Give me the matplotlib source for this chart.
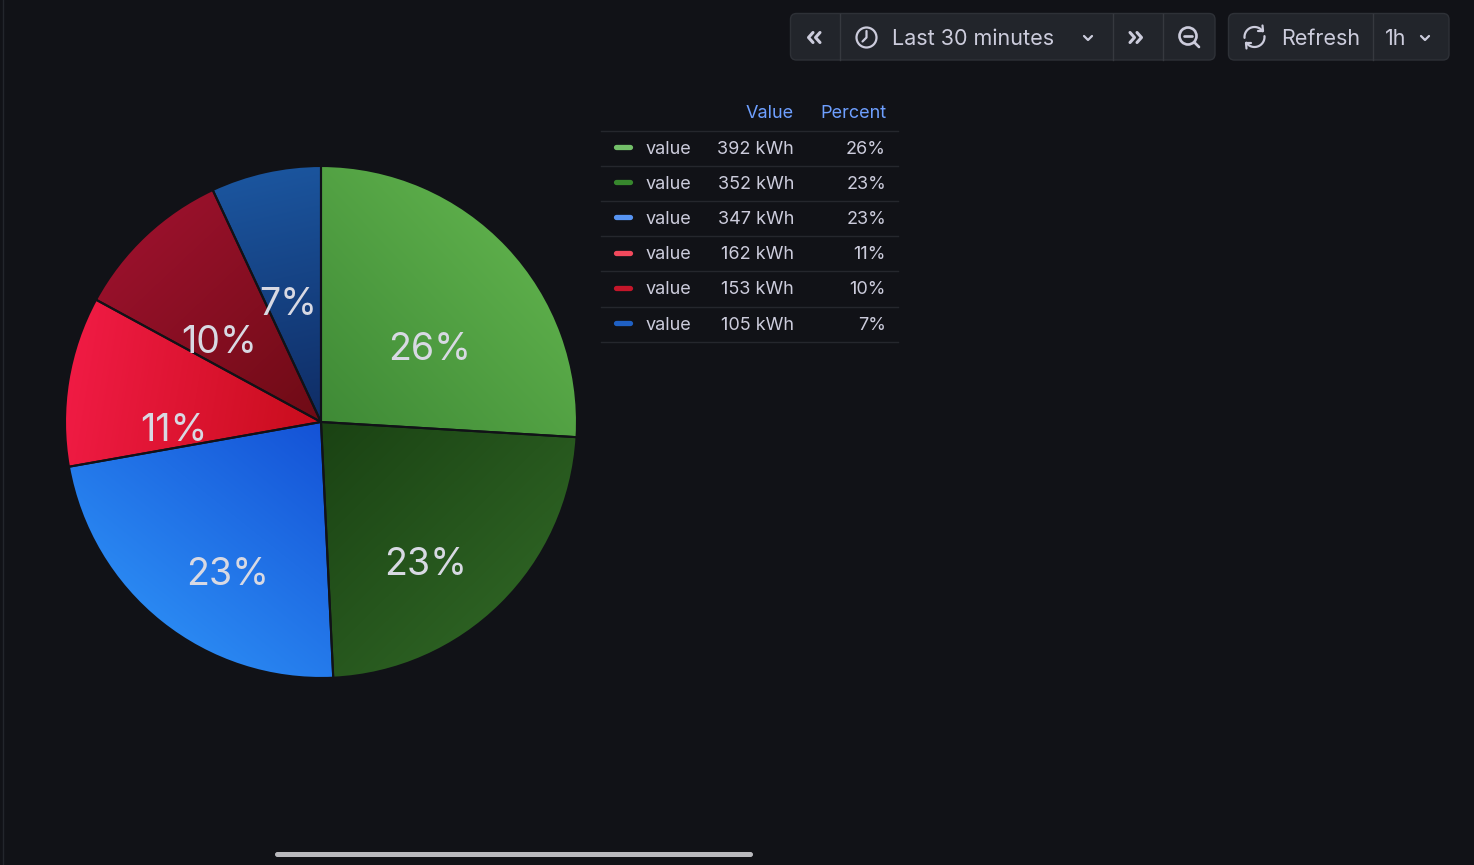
import numpy as np
import matplotlib
matplotlib.use('Agg')
from matplotlib import pyplot as plt
from matplotlib.patches import FancyBboxPatch, Circle
from matplotlib.colors import to_rgb

# data
series_names = ['value', 'value', 'value', 'value', 'value', 'value']
values = [392, 352, 347, 162, 153, 105]
unit = 'kWh'
legend_colors = ['#73bf69', '#37872d', '#5794f2', '#f2495c', '#c4162a', '#1f60c4']
inner_colors = ['#3f8a36', '#1a4213', '#1452d6', '#c80d1c', '#6e0b15', '#0f2c64']
outer_colors = ['#5cad4a', '#2c6022', '#2a88f2', '#f01b44', '#98112b', '#1b559e']
time_range = 'Last 30 minutes'
refresh_label = 'Refresh'
refresh_interval = '1h'

BG = '#111217'
TEXT = '#ccccdc'
W, H = 1474, 865
plt.rcParams['font.family'] = ['Inter', 'DejaVu Sans']

fig = plt.figure(figsize=(W / 100, H / 100), dpi=100, facecolor=BG)

# pie
cx, cy, r = 321, 422, 256
pad = 1.02
pie_ax = fig.add_axes([(cx - r * pad) / W, (H - cy - r * pad) / H, 2 * r * pad / W, 2 * r * pad / H])
pie_ax.set_facecolor('none')
wedges, _, autotexts = pie_ax.pie(
    values, startangle=90, counterclock=False, radius=1,
    autopct=lambda p: '%d%%' % round(p), pctdistance=0.6,
    wedgeprops=dict(edgecolor=BG, linewidth=1.5),
    textprops=dict(color='#d8d9e3', fontsize=27))

n = 700
xs = np.linspace(-1, 1, n)
X, Y = np.meshgrid(xs, xs[::-1])
for w, c0, c1 in zip(wedges, inner_colors, outer_colors):
    mid = np.deg2rad((w.theta1 + w.theta2) / 2)
    t = np.clip(X * np.cos(mid) + Y * np.sin(mid), 0, 1)[..., None]
    img = (1 - t) * np.array(to_rgb(c0)) + t * np.array(to_rgb(c1))
    im = pie_ax.imshow(img, extent=(-1, 1, -1, 1), origin='upper', zorder=1, interpolation='bilinear')
    im.set_clip_path(w)
    w.set_facecolor('none')
    w.set_zorder(2)
for t in autotexts:
    x, y = t.get_position()
    t.set_position((x * 0.97, y - 0.13))
    t.set_zorder(3)
pie_ax.set_xlim(-pad, pad)
pie_ax.set_ylim(-pad, pad)
pie_ax.axis('off')

# overlay in pixel coordinates
ov = fig.add_axes([0, 0, 1, 1])
ov.set_facecolor('none')
ov.set_xlim(0, W)
ov.set_ylim(H, 0)
ov.axis('off')

# panel border and scrollbar
ov.plot([3.5, 3.5], [0, H], color='#23262c', lw=1)
ov.add_patch(FancyBboxPatch((275, 852), 478, 5, boxstyle='round,pad=0,rounding_size=2.5',
                            fc='#b9b9bd', ec='none'))

# legend table
total = sum(values)
ov.text(794, 118, 'Value', color='#6e9fff', fontsize=13, ha='right', va='baseline')
ov.text(887, 118, 'Percent', color='#6e9fff', fontsize=13, ha='right', va='baseline')
row_h = 35.2
for i, (name, v, c) in enumerate(zip(series_names, values, legend_colors)):
    yc = 147 + row_h * i
    ov.plot([616, 630], [yc, yc], color=c, lw=3.8, solid_capstyle='round')
    ov.text(646, yc + 6.5, name, color=TEXT, fontsize=13, ha='left', va='baseline')
    ov.text(794, yc + 6.5, '%d %s' % (v, unit), color=TEXT, fontsize=13, ha='right', va='baseline')
    ov.text(886, yc + 6.5, '%d%%' % round(100 * v / total), color=TEXT, fontsize=13, ha='right', va='baseline')
for i in range(len(values) + 1):
    ys = 130.5 + row_h * i
    ov.plot([601, 898], [ys, ys], color='#25272d', lw=1)

# toolbar
for x0, x1 in [(790.5, 1215), (1228.5, 1449)]:
    ov.add_patch(FancyBboxPatch((x0, 13.5), x1 - x0, 46.5, boxstyle='round,pad=0,rounding_size=6',
                                fc='#22252b', ec='#2e3137', lw=1))
for xd in [840.5, 1113.5, 1163.5, 1373.5]:
    ov.plot([xd, xd], [14, 59.5], color='#36393f', lw=1)

ilw = 1.6
# << and >>
for dx in (0, 7):
    ov.plot([813 + dx, 808.5 + dx, 813 + dx], [32.5, 37.5, 42.5], color=TEXT, lw=2.2,
            solid_capstyle='round', solid_joinstyle='round')
    ov.plot([1130 + dx, 1134.5 + dx, 1130 + dx], [32.5, 37.5, 42.5], color=TEXT, lw=2.2,
            solid_capstyle='round', solid_joinstyle='round')
# clock
ov.add_patch(Circle((866.5, 37.5), 10, fill=False, ec=TEXT, lw=ilw))
ov.plot([866.5, 866.5, 862.5], [31, 37.5, 41.5], color=TEXT, lw=ilw, solid_capstyle='round')
ov.text(892, 45, time_range, color=TEXT, fontsize=15.5, ha='left', va='baseline')
# chevrons down
for xc in (1088, 1425):
    ov.plot([xc - 4, xc, xc + 4], [36, 40, 36], color=TEXT, lw=ilw, solid_capstyle='round')
# zoom out
ov.add_patch(Circle((1188, 36), 8.5, fill=False, ec=TEXT, lw=ilw * 1.2))
ov.plot([1184, 1192], [36, 36], color=TEXT, lw=ilw * 1.2, solid_capstyle='round')
ov.plot([1194.5, 1199], [42.5, 47], color=TEXT, lw=ilw * 1.2, solid_capstyle='round')
# refresh
rc = np.array([1254.5, 37.0])
for a0, a1 in [(35, 185), (215, 365)]:
    a = np.deg2rad(np.linspace(a0, a1, 40))
    ov.plot(rc[0] + 10 * np.cos(a), rc[1] - 10 * np.sin(a), color=TEXT, lw=ilw, solid_capstyle='round')
ov.plot([1262.5, 1263, 1258], [25.5, 31, 31], color=TEXT, lw=ilw, solid_capstyle='round', solid_joinstyle='round')
ov.plot([1246.5, 1246, 1251], [48.5, 43, 43], color=TEXT, lw=ilw, solid_capstyle='round', solid_joinstyle='round')
ov.text(1281, 45, refresh_label, color=TEXT, fontsize=15.5, ha='left', va='baseline')
ov.text(1385, 45, refresh_interval, color=TEXT, fontsize=15.5, ha='left', va='baseline')

fig.savefig('out.png', dpi=100, facecolor=BG)
